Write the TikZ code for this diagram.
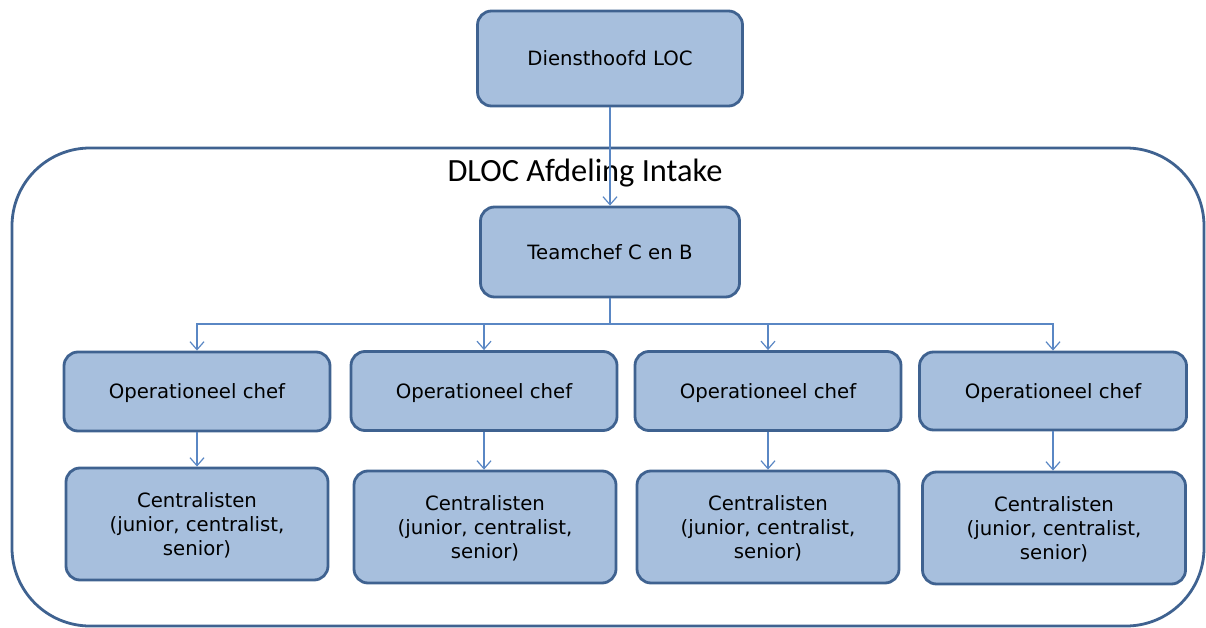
\documentclass[tikz,border=0pt]{standalone}
\usepackage{fontspec}
\setmainfont{DejaVu Sans}
\newfontfamily\titlefont{Carlito}
\usetikzlibrary{arrows.meta}
\definecolor{boxfill}{HTML}{A7BFDD}
\definecolor{boxline}{HTML}{3F6290}
\definecolor{conn}{HTML}{5A87C4}
\tikzset{
  orgbox/.style={draw=boxline, fill=boxfill, line width=2.8pt, rounded corners=14pt,
    minimum width=#1, align=center, font=\fontsize{19.7}{24}\selectfont, inner sep=0pt,
    text depth=0pt},
  orgbox/.default=263pt,
  conn/.style={draw=conn, line width=1.3pt, -{Straight Barb[length=8pt,width=14pt,line width=1.2pt]}},
  connplain/.style={draw=conn, line width=1.3pt}
}
\begin{document}
\begin{tikzpicture}[x=1pt,y=-1pt]
\useasboundingbox (0,0) rectangle (1206,628);
% outer frame
\draw[boxline, line width=2.8pt, rounded corners=78pt] (12,148) rectangle (1204,626);
\node[font=\titlefont\fontsize{32.4}{34}\selectfont] (title) at (585,173) {DLOC Afdeling Intake};
% boxes
\node[orgbox=265pt, minimum height=95pt] (dh) at (610,58.5) {Diensthoofd LOC};
\node[orgbox=259pt, minimum height=90pt] (tc) at (610,252) {Teamchef C en B};
\node[orgbox=266pt, minimum height=79pt] (o1) at (197,391.5) {Operationeel chef};
\node[orgbox=266pt, minimum height=79pt] (o2) at (484,391) {Operationeel chef};
\node[orgbox=266pt, minimum height=79pt] (o3) at (768,391) {Operationeel chef};
\node[orgbox=267pt, minimum height=78pt] (o4) at (1053,391) {Operationeel chef};
\node[orgbox=262pt, minimum height=112pt] (c1) at (197,524) {Centralisten\\(junior, centralist,\\senior)};
\node[orgbox=262pt, minimum height=112pt] (c2) at (485,527) {Centralisten\\(junior, centralist,\\senior)};
\node[orgbox=262pt, minimum height=112pt] (c3) at (768,527) {Centralisten\\(junior, centralist,\\senior)};
\node[orgbox=263pt, minimum height=112pt] (c4) at (1054,528) {Centralisten\\(junior, centralist,\\senior)};
% connectors
\coordinate (bus) at (610,324);
\draw[conn] (dh.south) -- (tc.north);
\draw[connplain] (tc.south) -- (bus);
\draw[conn] (bus) -| (o1.north);
\draw[conn] (bus) -| (o2.north);
\draw[conn] (bus) -| (o3.north);
\draw[conn] (bus) -| (o4.north);
\draw[conn] (o1.south) -- (o1.south |- c1.north);
\draw[conn] (o2.south) -- (o2.south |- c2.north);
\draw[conn] (o3.south) -- (o3.south |- c3.north);
\draw[conn] (o4.south) -- (o4.south |- c4.north);
\end{tikzpicture}
\end{document}
